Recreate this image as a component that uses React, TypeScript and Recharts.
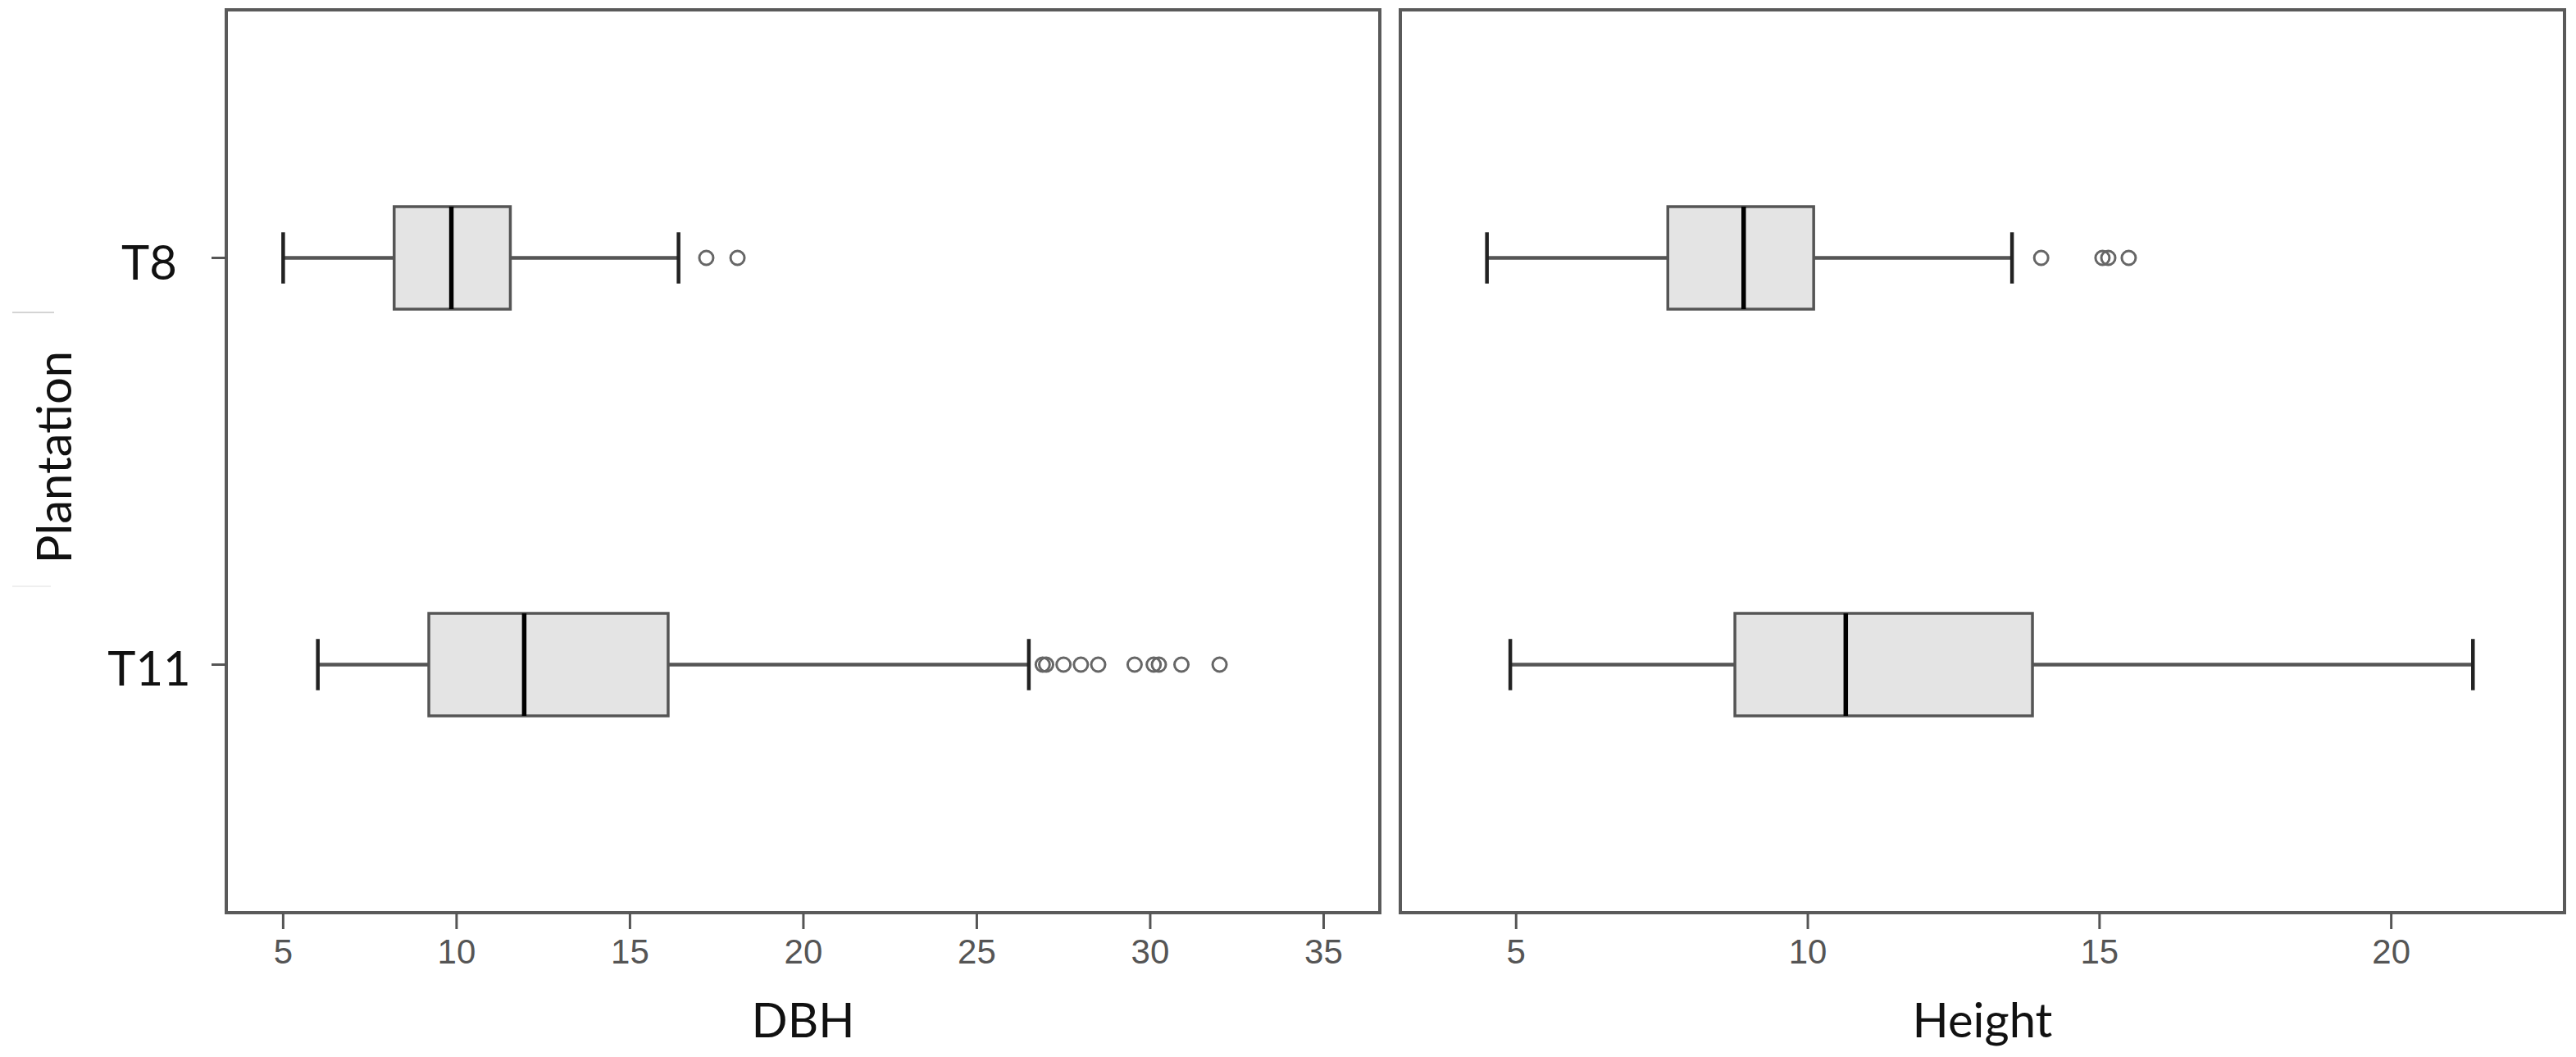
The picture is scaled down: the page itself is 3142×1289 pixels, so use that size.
import React from 'react';
import { ComposedChart, XAxis, YAxis, Scatter, ReferenceArea, ReferenceLine, Label } from 'recharts';

// Categories (y positions: T8 on top, T11 below)
const plantations = ['T8', 'T11'];
const plantationPos = [2, 1];

// DBH five-number summaries, per plantation [T8, T11]
const dbhMin = [5.0, 6.0];
const dbhQ1 = [8.2, 9.2];
const dbhMedian = [9.85, 11.95];
const dbhQ3 = [11.55, 16.1];
const dbhMax = [16.4, 26.5];
const dbhOutliers = [
  [17.2, 18.1],
  [26.9, 27.0, 27.5, 28.0, 28.5, 29.55, 30.1, 30.25, 30.9, 32.0],
];
const dbhTicks = [5, 10, 15, 20, 25, 30, 35];

// Height five-number summaries, per plantation [T8, T11]
const heightMin = [4.5, 4.9];
const heightQ1 = [7.6, 8.75];
const heightMedian = [8.9, 10.65];
const heightQ3 = [10.1, 13.85];
const heightMax = [13.5, 21.4];
const heightOutliers = [[14.0, 15.05, 15.15, 15.5], []];
const heightTicks = [5, 10, 15, 20];

const yDomain: [number, number] = [0.39, 2.61];
const BOX_HALF = 0.126;
const CAP_HALF = 0.063;

const FRAME = '#5a5a5a';
const TITLE_FONT = 'Lato, "Open Sans", sans-serif';
const TICK_FONT = '"Liberation Sans", Arial, sans-serif';

const YTick = (props: any) => {
  const { x, y, payload } = props;
  const idx = plantationPos.indexOf(payload.value);
  const label = idx >= 0 ? plantations[idx] : '';
  return (
    <text x={x - 76} y={y} dy={26} textAnchor="middle" fontSize={58} fontFamily={TITLE_FONT} fill="#111">
      {label}
    </text>
  );
};

type PanelProps = {
  width: number;
  height: number;
  margin: { top: number; right: number; bottom: number; left: number };
  xDomain: [number, number];
  xTicks: number[];
  mins: number[];
  q1s: number[];
  medians: number[];
  q3s: number[];
  maxs: number[];
  outliers: number[][];
  title: string;
  showY: boolean;
};

function BoxPanel(p: PanelProps) {
  const outlierData = p.outliers.flatMap((vals, i) => vals.map((v) => ({ x: v, y: plantationPos[i] })));
  const anchorData = outlierData.length ? outlierData : [{ x: p.xDomain[0], y: yDomain[0] }];
  return (
    <ComposedChart width={p.width} height={p.height} margin={p.margin}>
      <XAxis
        type="number"
        dataKey="x"
        domain={p.xDomain}
        ticks={p.xTicks}
        interval={0}
        allowDataOverflow
        axisLine={false}
        tickSize={20}
        tickMargin={12}
        tickLine={{ stroke: '#555', strokeWidth: 3 }}
        tick={{ fill: '#555', fontSize: 42, fontFamily: TICK_FONT }}
        height={100}
      >
        <Label
          content={(lp: any) => {
            const vb = lp.viewBox || { x: 0, y: 0, width: 0 };
            return (
              <text x={vb.x + vb.width / 2} y={vb.y + 152} textAnchor="middle" fontSize={58} fontFamily={TITLE_FONT} fill="#111">
                {p.title}
              </text>
            );
          }}
        />
      </XAxis>
      <YAxis
        type="number"
        dataKey="y"
        domain={yDomain}
        ticks={[1, 2]}
        interval={0}
        allowDataOverflow
        hide={!p.showY}
        width={200}
        axisLine={false}
        tickSize={18}
        tickMargin={0}
        tickLine={{ stroke: '#555', strokeWidth: 3 }}
        tick={(tp: any) => <YTick {...tp} />}
      >
        <Label
          content={(lp: any) => {
            const vb = lp.viewBox || { x: 0, y: 0, height: 0 };
            const tx = vb.x + 11;
            const ty = vb.y + vb.height / 2 - 5;
            return (
              <text x={tx} y={ty} textAnchor="middle" fontSize={58} fontFamily={TITLE_FONT} fill="#111" transform={`rotate(-90, ${tx}, ${ty})`}>
                Plantation
              </text>
            );
          }}
        />
      </YAxis>

      {/* plot frame */}
      <ReferenceArea
        x1={p.xDomain[0]}
        x2={p.xDomain[1]}
        y1={yDomain[0]}
        y2={yDomain[1]}
        fill="none"
        fillOpacity={0}
        stroke={FRAME}
        strokeWidth={4}
        ifOverflow="visible"
      />

      {/* whiskers */}
      {plantationPos.map((pos, i) => (
        <ReferenceLine
          key={`wl-${i}`}
          segment={[{ x: p.mins[i], y: pos }, { x: p.q1s[i], y: pos }]}
          stroke="#555"
          strokeWidth={4.5}
          ifOverflow="visible"
        />
      ))}
      {plantationPos.map((pos, i) => (
        <ReferenceLine
          key={`wu-${i}`}
          segment={[{ x: p.q3s[i], y: pos }, { x: p.maxs[i], y: pos }]}
          stroke="#555"
          strokeWidth={4.5}
          ifOverflow="visible"
        />
      ))}
      {plantationPos.map((pos, i) => (
        <ReferenceLine
          key={`cl-${i}`}
          segment={[{ x: p.mins[i], y: pos - CAP_HALF }, { x: p.mins[i], y: pos + CAP_HALF }]}
          stroke="#222"
          strokeWidth={4.5}
          ifOverflow="visible"
        />
      ))}
      {plantationPos.map((pos, i) => (
        <ReferenceLine
          key={`cu-${i}`}
          segment={[{ x: p.maxs[i], y: pos - CAP_HALF }, { x: p.maxs[i], y: pos + CAP_HALF }]}
          stroke="#222"
          strokeWidth={4.5}
          ifOverflow="visible"
        />
      ))}

      {/* boxes */}
      {plantationPos.map((pos, i) => (
        <ReferenceArea
          key={`box-${i}`}
          x1={p.q1s[i]}
          x2={p.q3s[i]}
          y1={pos - BOX_HALF}
          y2={pos + BOX_HALF}
          fill="#e4e4e4"
          fillOpacity={1}
          stroke="#555"
          strokeWidth={3.5}
          ifOverflow="visible"
        />
      ))}

      {/* medians */}
      {plantationPos.map((pos, i) => (
        <ReferenceLine
          key={`med-${i}`}
          segment={[{ x: p.medians[i], y: pos - BOX_HALF }, { x: p.medians[i], y: pos + BOX_HALF }]}
          stroke="#000"
          strokeWidth={5.5}
          ifOverflow="visible"
        />
      ))}

      <Scatter
        data={anchorData}
        isAnimationActive={false}
        shape={(sp: any) =>
          outlierData.length ? (
            <circle cx={sp.cx} cy={sp.cy} r={8.5} fill="none" stroke="#666" strokeWidth={3} />
          ) : (
            <g />
          )
        }
      />
    </ComposedChart>
  );
}

export default function App() {
  return (
    <div style={{ position: 'absolute', left: 0, top: 0, width: 3142, height: 1289, background: '#fff' }}>
      <div style={{ position: 'absolute', left: 15, top: 380, width: 51, height: 2, background: '#d4d4d4' }} />
      <div style={{ position: 'absolute', left: 15, top: 714, width: 47, height: 2, background: '#efefef' }} />
      <div style={{ position: 'absolute', left: 0, top: 0 }}>
        <BoxPanel
          width={1700}
          height={1289}
          margin={{ top: 12, right: 17, bottom: 76, left: 76 }}
          xDomain={[3.36, 36.62]}
          xTicks={dbhTicks}
          mins={dbhMin}
          q1s={dbhQ1}
          medians={dbhMedian}
          q3s={dbhQ3}
          maxs={dbhMax}
          outliers={dbhOutliers}
          title="DBH"
          showY={true}
        />
      </div>
      <div style={{ position: 'absolute', left: 1700, top: 0 }}>
        <BoxPanel
          width={1442}
          height={1289}
          margin={{ top: 12, right: 14, bottom: 76, left: 8 }}
          xDomain={[3.015, 22.97]}
          xTicks={heightTicks}
          mins={heightMin}
          q1s={heightQ1}
          medians={heightMedian}
          q3s={heightQ3}
          maxs={heightMax}
          outliers={heightOutliers}
          title="Height"
          showY={false}
        />
      </div>
    </div>
  );
}
